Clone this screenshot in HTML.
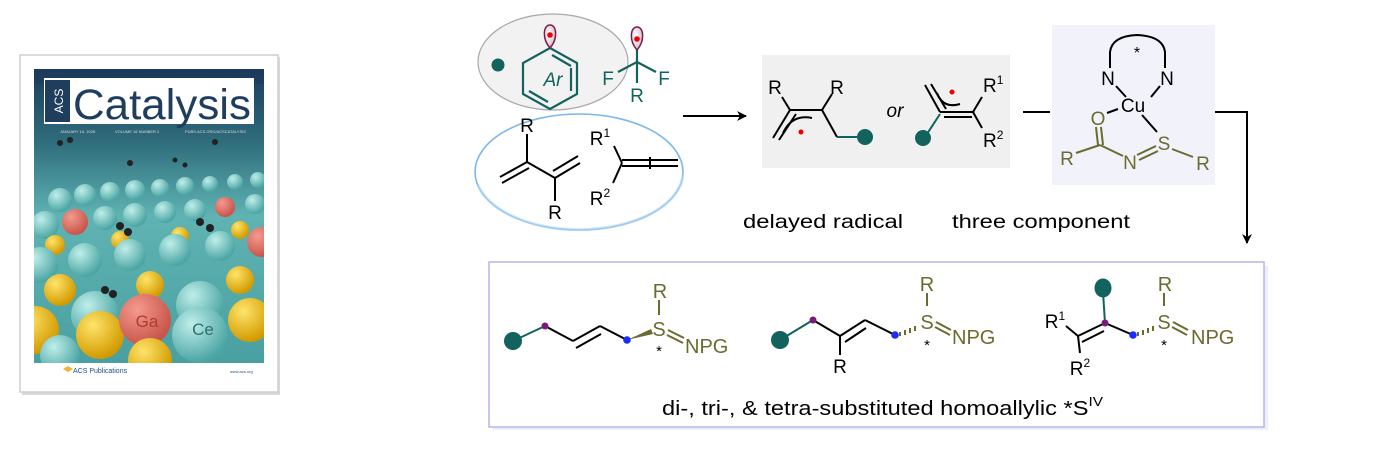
<!DOCTYPE html>
<html><head><meta charset="utf-8"><style>
html,body{margin:0;padding:0;background:#fff;}
svg{display:block;}
text{font-family:"Liberation Sans",Arial,sans-serif;}
</style></head><body>
<svg width="1386" height="454" viewBox="0 0 1386 454" xmlns="http://www.w3.org/2000/svg">
<defs>
<linearGradient id="sky" x1="0" y1="0" x2="0" y2="1">
<stop offset="0" stop-color="#1c3b5c"/><stop offset="0.25" stop-color="#2f6d7c"/><stop offset="0.5" stop-color="#5fb3b3"/><stop offset="1" stop-color="#4a9fa0"/>
</linearGradient>
<radialGradient id="teal" cx="0.35" cy="0.3" r="0.7"><stop offset="0" stop-color="#bfeeea"/><stop offset="1" stop-color="#4aa5a3"/></radialGradient>
<radialGradient id="gold" cx="0.35" cy="0.3" r="0.7"><stop offset="0" stop-color="#ffe46a"/><stop offset="1" stop-color="#d29a00"/></radialGradient>
<radialGradient id="red" cx="0.35" cy="0.3" r="0.7"><stop offset="0" stop-color="#f49a8e"/><stop offset="1" stop-color="#c8544a"/></radialGradient>
<radialGradient id="lobe" cx="0.4" cy="0.4" r="0.7"><stop offset="0" stop-color="#ffffff"/><stop offset="1" stop-color="#c9b3c4"/></radialGradient>
<clipPath id="cov"><rect x="34" y="69" width="230" height="294"/></clipPath>
<marker id="ah" markerWidth="10" markerHeight="10" refX="9" refY="5" orient="auto" markerUnits="userSpaceOnUse"><path d="M0,0 L10,5 L0,10 L3,5 z" fill="#000"/></marker>
</defs>

<!-- Cover -->
<rect x="22" y="57" width="258" height="338" fill="#d8d8d8"/>
<rect x="20" y="55" width="258" height="337" fill="#fff" stroke="#cfcfcf" stroke-width="1.5"/>
<g clip-path="url(#cov)">
<rect x="34" y="69" width="230" height="294" fill="url(#sky)"/>
<g>
<circle cx="60" cy="200" r="12" fill="url(#teal)"/><circle cx="85" cy="195" r="11" fill="url(#teal)"/><circle cx="110" cy="192" r="10" fill="url(#teal)"/><circle cx="135" cy="190" r="10" fill="url(#teal)"/><circle cx="160" cy="188" r="9" fill="url(#teal)"/><circle cx="185" cy="186" r="9" fill="url(#teal)"/><circle cx="210" cy="184" r="8" fill="url(#teal)"/><circle cx="235" cy="182" r="8" fill="url(#teal)"/><circle cx="258" cy="180" r="8" fill="url(#teal)"/>
<circle cx="45" cy="225" r="14" fill="url(#teal)"/><circle cx="75" cy="222" r="13" fill="url(#red)"/><circle cx="105" cy="218" r="12" fill="url(#teal)"/><circle cx="135" cy="215" r="12" fill="url(#teal)"/><circle cx="165" cy="212" r="11" fill="url(#teal)"/><circle cx="195" cy="210" r="11" fill="url(#teal)"/><circle cx="225" cy="207" r="10" fill="url(#red)"/><circle cx="255" cy="204" r="10" fill="url(#teal)"/>
<circle cx="55" cy="245" r="10" fill="url(#gold)"/><circle cx="120" cy="240" r="9" fill="url(#gold)"/><circle cx="180" cy="236" r="9" fill="url(#gold)"/><circle cx="240" cy="230" r="9" fill="url(#gold)"/>
<circle cx="40" cy="265" r="18" fill="url(#teal)"/><circle cx="85" cy="260" r="17" fill="url(#teal)"/><circle cx="130" cy="255" r="16" fill="url(#teal)"/><circle cx="175" cy="250" r="16" fill="url(#teal)"/><circle cx="220" cy="246" r="15" fill="url(#teal)"/><circle cx="262" cy="242" r="15" fill="url(#red)"/>
<circle cx="60" cy="290" r="16" fill="url(#gold)"/><circle cx="150" cy="285" r="14" fill="url(#gold)"/><circle cx="240" cy="280" r="14" fill="url(#gold)"/>
<circle cx="35" cy="330" r="24" fill="url(#gold)"/><circle cx="95" cy="315" r="24" fill="url(#teal)"/><circle cx="200" cy="305" r="24" fill="url(#teal)"/>
<circle cx="100" cy="335" r="24" fill="url(#gold)"/><circle cx="145" cy="320" r="26" fill="url(#red)"/><circle cx="200" cy="335" r="28" fill="url(#teal)"/><circle cx="250" cy="320" r="22" fill="url(#gold)"/><circle cx="60" cy="355" r="20" fill="url(#teal)"/><circle cx="150" cy="360" r="22" fill="url(#gold)"/>
</g>
<text x="147" y="327" font-size="17" fill="#b23b30" text-anchor="middle">Ga</text>
<text x="203" y="335" font-size="17" fill="#2f6f6d" text-anchor="middle">Ce</text>
<g fill="#222"><circle cx="60" cy="143" r="3"/><circle cx="70" cy="140" r="3"/><circle cx="100" cy="115" r="2.5"/><circle cx="130" cy="163" r="3"/><circle cx="175" cy="160" r="2.5"/><circle cx="215" cy="142" r="3"/><circle cx="120" cy="226" r="4"/><circle cx="128" cy="232" r="4"/><circle cx="200" cy="222" r="4"/><circle cx="210" cy="228" r="4"/><circle cx="105" cy="290" r="4"/><circle cx="113" cy="294" r="4"/><circle cx="185" cy="165" r="2.5"/></g>
<rect x="34" y="69" width="230" height="15" fill="#1c3b5c" opacity="0.6"/>
</g>
<rect x="44" y="78" width="210" height="46" fill="#fff"/>
<rect x="45" y="80" width="25" height="42" fill="#1f3e5e"/>
<text transform="translate(63,101) rotate(-90)" font-size="12" fill="#fff" text-anchor="middle">ACS</text>
<text x="73" y="119" font-size="43" fill="#1f3e5e" textLength="178" lengthAdjust="spacingAndGlyphs">Catalysis</text>
<text x="60" y="133" font-size="4" fill="#ddd">JANUARY 16, 2026</text>
<text x="115" y="133" font-size="4" fill="#ddd">VOLUME 16   NUMBER 2</text>
<text x="185" y="133" font-size="4" fill="#ddd">PUBS.ACS.ORG/ACSCATALYSIS</text>
<path d="M63,369 l5,-3 l5,3 l-5,3z" fill="#f2b233"/>
<text x="73" y="373" font-size="7" fill="#1f4e8c">ACS Publications</text>
<text x="230" y="373" font-size="4" fill="#1f4e8c">www.acs.org</text>

<!-- Reagents ellipses -->
<ellipse cx="579" cy="172" rx="104" ry="58" fill="#fff" stroke="#7cb7ea" stroke-width="1.6"/>
<path d="M478,185 A104,58 0 0 0 683,175" fill="none" stroke="#b8d8f4" stroke-width="3" opacity="0.6"/>
<ellipse cx="553" cy="62" rx="75" ry="48" fill="#f2f2f2" stroke="#a8a8a8" stroke-width="1.2"/>
<circle cx="498" cy="65" r="6.5" fill="#12625e"/>
<g stroke="#12625e" stroke-width="2.2" fill="none">
<polygon points="550,48 577,63 577,94 550,109 523,94 523,63"/>
<line x1="552" y1="55" x2="571" y2="66"/><line x1="571" y1="68" x2="571" y2="91"/><line x1="529" y1="91" x2="548" y2="102"/>
<line x1="637" y1="50" x2="637" y2="83"/><line x1="637" y1="62" x2="618" y2="72"/><line x1="637" y1="62" x2="656" y2="72"/>
</g>
<text x="553" y="86" font-size="19" font-style="italic" fill="#12625e" text-anchor="middle">Ar</text>
<text x="608" y="85" font-size="19" fill="#12625e" text-anchor="middle">F</text>
<text x="664" y="85" font-size="19" fill="#12625e" text-anchor="middle">F</text>
<text x="637" y="102" font-size="19" fill="#12625e" text-anchor="middle">R</text>
<path d="M550,48 C542,39 543,25 550,25 C557,25 558,39 550,48z" fill="url(#lobe)" stroke="#7a1d4a" stroke-width="1.5"/>
<circle cx="550" cy="35" r="2.8" fill="#e00"/>
<path d="M637,50 C629,41 630,27 637,27 C644,27 645,41 637,50z" fill="url(#lobe)" stroke="#7a1d4a" stroke-width="1.5"/>
<circle cx="637" cy="39" r="2.8" fill="#e00"/>
<g stroke="#000" stroke-width="2" fill="none">
<line x1="527" y1="134" x2="527" y2="162"/><line x1="527" y1="162" x2="500" y2="177"/><line x1="529" y1="168" x2="502" y2="183"/>
<line x1="527" y1="162" x2="555" y2="178"/><line x1="555" y1="178" x2="580" y2="163"/><line x1="553" y1="171" x2="578" y2="156"/>
<line x1="555" y1="178" x2="555" y2="201"/>
<line x1="614" y1="146" x2="622" y2="163"/><line x1="622" y1="163" x2="613" y2="183"/>
<line x1="622" y1="160" x2="678" y2="160"/><line x1="622" y1="166" x2="678" y2="166"/>
<line x1="650" y1="157" x2="650" y2="169"/>
</g>
<text x="527" y="132" font-size="19" text-anchor="middle">R</text>
<text x="555" y="219" font-size="19" text-anchor="middle">R</text>
<text x="600" y="145" font-size="19" text-anchor="middle">R<tspan font-size="12" dy="-8">1</tspan></text>
<text x="600" y="205" font-size="19" text-anchor="middle">R<tspan font-size="12" dy="-8">2</tspan></text>

<line x1="683" y1="116" x2="746" y2="116" stroke="#000" stroke-width="2" marker-end="url(#ah)"/>

<!-- Gray box -->
<rect x="762" y="55" width="248" height="113" fill="#f0f0f0"/>
<g stroke="#000" stroke-width="2" fill="none">
<line x1="782" y1="97" x2="790" y2="110"/><line x1="790" y1="110" x2="773" y2="138"/><line x1="796" y1="114" x2="779" y2="140"/>
<line x1="790" y1="110" x2="822" y2="110"/>
<line x1="822" y1="110" x2="832" y2="94"/><line x1="822" y1="110" x2="837" y2="137"/>
<path d="M783,133 Q792,114 812,118"/>
<line x1="925" y1="85" x2="940" y2="112"/><line x1="931" y1="84" x2="946" y2="109"/><line x1="940" y1="112" x2="973" y2="112"/><line x1="944" y1="117" x2="972" y2="117"/>
<line x1="973" y1="112" x2="982" y2="97"/><line x1="973" y1="112" x2="982" y2="128"/>
<path d="M937,93 Q943,109 960,104"/>
</g>
<line x1="837" y1="137" x2="862" y2="137" stroke="#12625e" stroke-width="2"/>
<circle cx="865" cy="137" r="8" fill="#12625e"/>
<line x1="940" y1="114" x2="925" y2="137" stroke="#12625e" stroke-width="2"/>
<circle cx="923" cy="138" r="8" fill="#12625e"/>
<circle cx="801" cy="132" r="2.5" fill="#e00"/><circle cx="952" cy="92" r="2.5" fill="#e00"/>
<text x="775" y="94" font-size="19" text-anchor="middle">R</text>
<text x="837" y="94" font-size="19" text-anchor="middle">R</text>
<text x="895" y="117" font-size="19" font-style="italic" text-anchor="middle">or</text>
<text x="983" y="92" font-size="19">R<tspan font-size="12" dy="-8">1</tspan></text>
<text x="983" y="147" font-size="19">R<tspan font-size="12" dy="-8">2</tspan></text>
<text x="743" y="228" font-size="19" textLength="160" lengthAdjust="spacingAndGlyphs">delayed radical</text>
<text x="952" y="228" font-size="19" textLength="178" lengthAdjust="spacingAndGlyphs">three component</text>

<line x1="1023" y1="112" x2="1050" y2="112" stroke="#000" stroke-width="2"/>

<!-- Cu box -->
<rect x="1052" y="25" width="163" height="160" fill="#f2f2fb"/>
<g stroke="#000" stroke-width="2" fill="none">
<path d="M1110,68 L1110,52 Q1112,36 1137,35 Q1163,36 1165,52 L1165,68"/>
<line x1="1116" y1="86" x2="1126" y2="97"/><line x1="1160" y1="86" x2="1151" y2="97"/>
<line x1="1107" y1="113" x2="1118" y2="109"/>
<line x1="1142" y1="115" x2="1157" y2="132"/>
</g>
<g stroke="#6b6b30" stroke-width="2" fill="none">
<line x1="1096" y1="127" x2="1098" y2="145"/><line x1="1101" y1="127" x2="1103" y2="145"/>
<line x1="1100" y1="145" x2="1076" y2="153"/><line x1="1100" y1="145" x2="1123" y2="156"/>
<line x1="1137" y1="155" x2="1156" y2="146"/><line x1="1139" y1="160" x2="1158" y2="151"/>
<line x1="1172" y1="149" x2="1193" y2="157"/>
</g>
<text x="1108" y="85" font-size="19" text-anchor="middle">N</text>
<text x="1167" y="85" font-size="19" text-anchor="middle">N</text>
<text x="1137" y="58" font-size="16" text-anchor="middle">*</text>
<text x="1133" y="112" font-size="19" text-anchor="middle">Cu</text>
<g fill="#6b6b30" font-size="19" text-anchor="middle">
<text x="1098" y="125">O</text><text x="1067" y="165">R</text><text x="1130" y="169">N</text><text x="1164" y="150">S</text><text x="1203" y="170">R</text>
</g>
<polyline points="1215,112 1247,112 1247,243" fill="none" stroke="#000" stroke-width="2" marker-end="url(#ah)"/>

<!-- Bottom box -->
<rect x="493" y="266" width="775" height="164" fill="#eceef8"/>
<rect x="489" y="262" width="775" height="165" fill="#fff" stroke="#b5b5ea" stroke-width="1.5"/>
<!-- product 1 -->
<line x1="513" y1="341" x2="545" y2="326" stroke="#12625e" stroke-width="2"/>
<circle cx="513" cy="341" r="9" fill="#12625e"/>
<g stroke="#000" stroke-width="2" fill="none">
<line x1="545" y1="326" x2="573" y2="341"/><line x1="573" y1="341" x2="600" y2="326"/><line x1="576" y1="348" x2="601" y2="334"/><line x1="600" y1="326" x2="627" y2="340"/>
</g>
<polygon points="627,340 651,329 653,334" fill="#6b6b30"/>
<circle cx="545" cy="326" r="3.5" fill="#7a1a7a"/><circle cx="627" cy="340" r="3.8" fill="#1a2cff"/>
<!-- product 2 -->
<line x1="780" y1="340" x2="813" y2="320" stroke="#12625e" stroke-width="2"/>
<circle cx="780" cy="340" r="9" fill="#12625e"/>
<g stroke="#000" stroke-width="2" fill="none">
<line x1="813" y1="320" x2="840" y2="336"/><line x1="840" y1="336" x2="840" y2="355"/><line x1="840" y1="336" x2="865" y2="320"/><line x1="845" y1="342" x2="866" y2="328"/><line x1="865" y1="320" x2="895" y2="335"/>
</g>
<text x="840" y="373" font-size="19" text-anchor="middle">R</text>
<circle cx="813" cy="320" r="3.5" fill="#7a1a7a"/><circle cx="895" cy="335" r="3.8" fill="#1a2cff"/>
<g stroke="#6b6b30" stroke-width="2"><line x1="900" y1="332" x2="900" y2="336"/><line x1="905" y1="330" x2="905" y2="335"/><line x1="910" y1="328" x2="910" y2="333"/><line x1="915" y1="326" x2="915" y2="331"/></g>
<!-- product 3 -->
<line x1="1105" y1="323" x2="1103" y2="292" stroke="#12625e" stroke-width="2"/>
<ellipse cx="1103" cy="288" rx="8.5" ry="9.5" fill="#12625e"/>
<g stroke="#000" stroke-width="2" fill="none">
<line x1="1066" y1="326" x2="1078" y2="336"/><line x1="1078" y1="336" x2="1105" y2="323"/><line x1="1082" y1="342" x2="1104" y2="331"/><line x1="1078" y1="336" x2="1080" y2="353"/><line x1="1105" y1="323" x2="1133" y2="335"/>
</g>
<text x="1055" y="328" font-size="19" text-anchor="middle">R<tspan font-size="12" dy="-8">1</tspan></text>
<text x="1080" y="375" font-size="19" text-anchor="middle">R<tspan font-size="12" dy="-8">2</tspan></text>
<circle cx="1105" cy="323" r="3.5" fill="#7a1a7a"/><circle cx="1133" cy="335" r="3.8" fill="#1a2cff"/>
<g stroke="#6b6b30" stroke-width="2"><line x1="1138" y1="332" x2="1138" y2="336"/><line x1="1143" y1="330" x2="1143" y2="335"/><line x1="1148" y1="328" x2="1148" y2="333"/><line x1="1153" y1="326" x2="1153" y2="331"/></g>
<!-- S groups -->
<g fill="#6b6b30" font-size="20" text-anchor="middle">
<text x="659" y="336">S</text><text x="660" y="298">R</text>
<text x="927" y="329">S</text><text x="927" y="291">R</text>
<text x="1164" y="329">S</text><text x="1165" y="291">R</text>
</g>
<g fill="#6b6b30" font-size="20">
<text x="685" y="353">NPG</text><text x="952" y="344">NPG</text><text x="1191" y="344">NPG</text>
</g>
<g stroke="#6b6b30" stroke-width="2">
<line x1="659" y1="300" x2="659" y2="315"/><line x1="927" y1="293" x2="927" y2="306"/><line x1="1164" y1="293" x2="1164" y2="306"/>
<line x1="668" y1="330" x2="684" y2="338"/><line x1="667" y1="335" x2="683" y2="343"/>
<line x1="936" y1="322" x2="951" y2="330"/><line x1="935" y1="327" x2="950" y2="335"/>
<line x1="1173" y1="322" x2="1188" y2="330"/><line x1="1172" y1="327" x2="1187" y2="335"/>
</g>
<g font-size="15" text-anchor="middle"><text x="659" y="356">*</text><text x="927" y="350">*</text><text x="1164" y="350">*</text></g>
<text x="662" y="415" font-size="20" textLength="441" lengthAdjust="spacingAndGlyphs">di-, tri-, &amp; tetra-substituted homoallylic *S<tspan font-size="13" dy="-9">IV</tspan></text>
</svg>
</body></html>
